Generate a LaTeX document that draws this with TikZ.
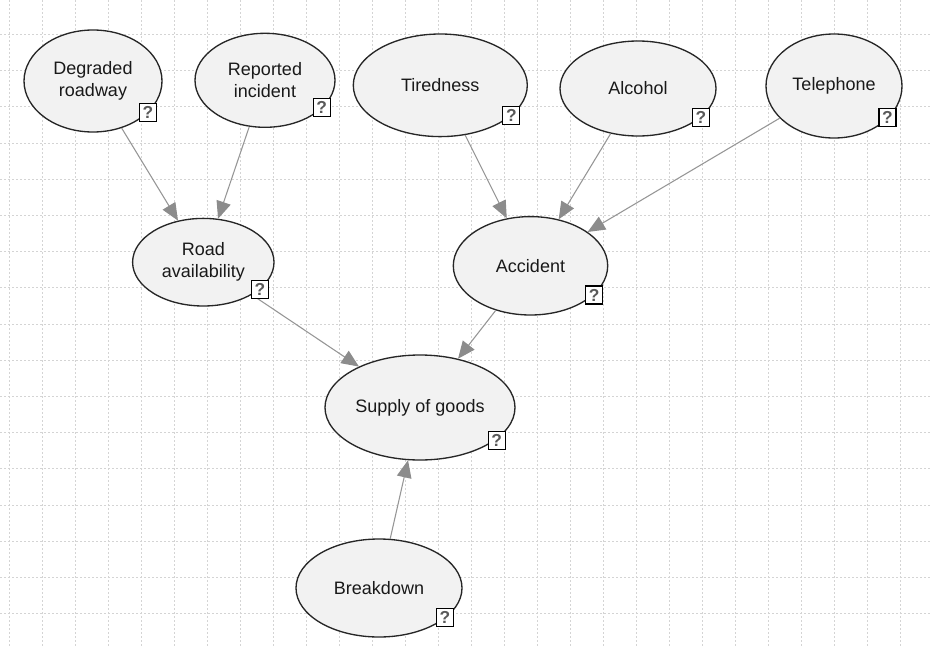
\documentclass[tikz,border=0pt]{standalone}
\usepackage{fontspec}
\setmainfont{Liberation Sans}
\usetikzlibrary{shapes.geometric,arrows.meta}
\definecolor{gridc}{RGB}{212,212,212}
\definecolor{nodefill}{RGB}{242,242,242}
\definecolor{linkc}{RGB}{150,150,150}
\definecolor{tipc}{RGB}{140,140,140}
\definecolor{inkc}{RGB}{25,25,25}
\begin{document}
\begin{tikzpicture}[x=0.75pt,y=-0.75pt,
  var/.style={ellipse,draw=black!85,line width=1pt,fill=nodefill,inner sep=0pt,
    align=center,text=inkc,font=\fontsize{13.5}{16.5}\selectfont},
  sz/.style 2 args={minimum width={#1*1.5pt},minimum height={#2*1.5pt}},
  qbox/.style={draw=black,fill=white,line width=0.8pt,minimum width=12.75pt,
    minimum height=13.5pt,inner sep=0pt,font=\fontsize{13}{13}\selectfont\bfseries,text=black!65},
  link/.style={draw=linkc,line width=0.8pt,-{Triangle[length=13pt,width=11pt,color=tipc]}},
  gridline/.style={gridc,line width=0.75pt,dash pattern=on 1.5pt off 1.5pt},
]
\useasboundingbox (0,0) rectangle (930,646);
\fill[white] (0,0) rectangle (930,646);

% background grid
\foreach \k in {0,...,27}
  \draw[gridline] ({9.7+33*\k},0) -- ({9.7+33*\k},646);
\foreach \k in {0,...,16}
  \draw[gridline] (0,{34.5+36.2*\k}) -- (930,{34.5+36.2*\k});

% variables
\node[var,sz={69}{51}]     (deg)  at (93,81)      {Degraded\\roadway};
\node[var,sz={70}{47}]     (rep)  at (265,80.3)   {Reported\\incident};
\node[var,sz={87}{51.3}]   (tir)  at (440.3,85.3) {Tiredness};
\node[var,sz={78}{47.5}]   (alc)  at (638,88.5)   {Alcohol};
\node[var,sz={68}{52}]     (tel)  at (834,86)     {Telephone};
\node[var,sz={70.7}{43.8}] (road) at (203.3,262.2){Road\\availability};
\node[var,sz={77.2}{49.2}] (acc)  at (530.5,265.8){Accident};
\node[var,sz={95}{52.5}]   (sup)  at (420,407.5)  {Supply of goods};
\node[var,sz={83}{49}]     (brk)  at (379,588)    {Breakdown};

% dependencies
\draw[link] (deg) -- (road);
\draw[link] (rep) -- (road);
\draw[link] (tir) -- (acc);
\draw[link] (alc) -- (acc);
\draw[link] (tel) -- (acc);
\draw[link] (road) -- (sup);
\draw[link] (acc) -- (sup);
\draw[link] (brk) -- (sup);

% state markers
\node[qbox] (deg-q)  at (148,112.2)   {?};
\node[qbox] (rep-q)  at (321.7,107.8) {?};
\node[qbox] (tir-q)  at (511.3,115.8) {?};
\node[qbox] (alc-q)  at (700.8,117.5) {?};
\node[qbox] (tel-q)  at (887.5,117.5) {?};
\node[qbox] (road-q) at (260,289.2)   {?};
\node[qbox] (acc-q)  at (594.2,295)   {?};
\node[qbox] (sup-q)  at (496.7,440.5) {?};
\node[qbox] (brk-q)  at (445,617.8)   {?};
\end{tikzpicture}
\end{document}
